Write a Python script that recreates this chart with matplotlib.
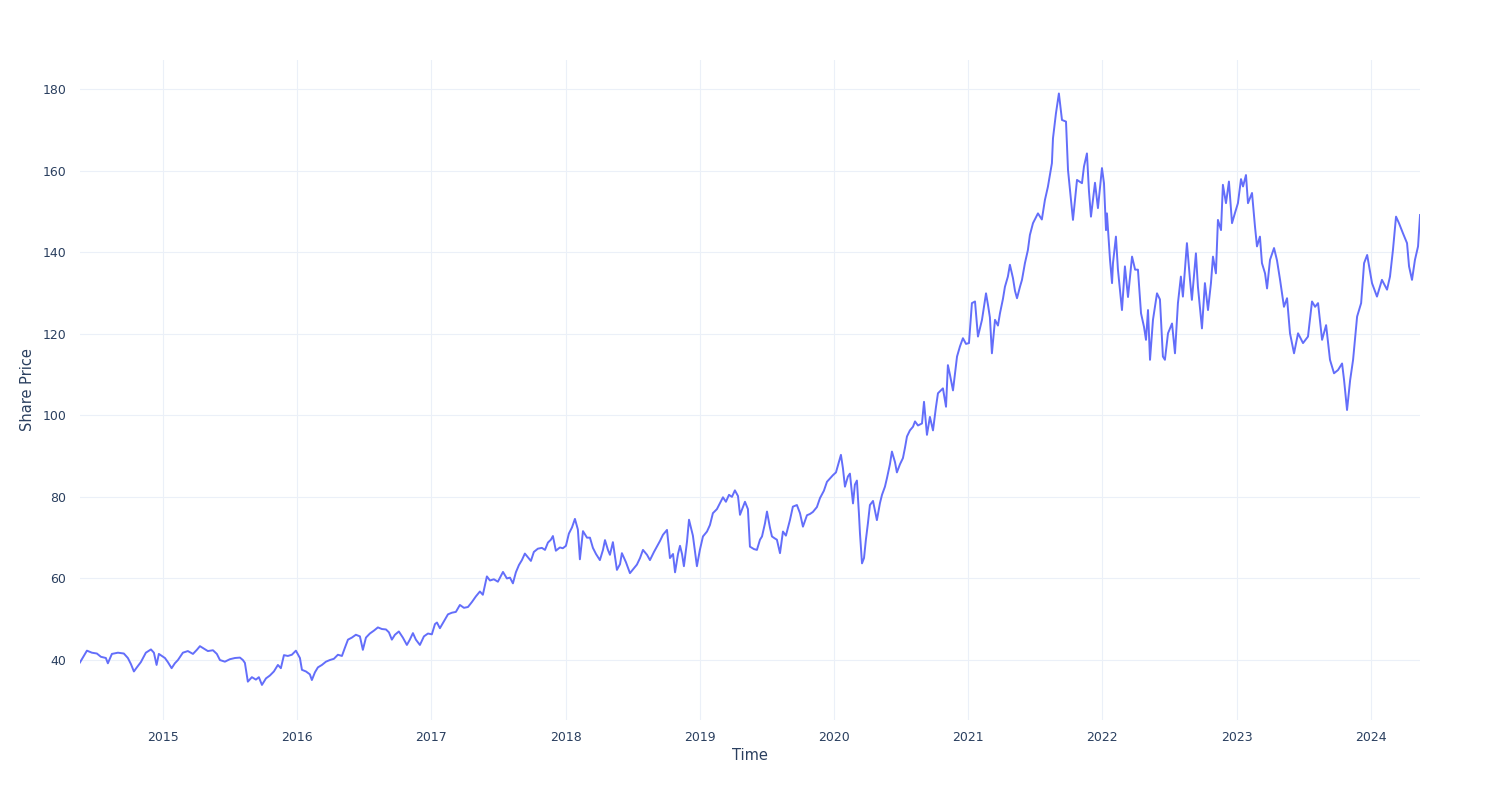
#!/usr/bin/env python3
import matplotlib
matplotlib.use("Agg")
import matplotlib.pyplot as plt

# Time as decimal year, price
t = [
    2014.382, 2014.411, 2014.434, 2014.471, 2014.508, 2014.538, 2014.575, 2014.590, 2014.620, 2014.665,
    2014.709, 2014.739, 2014.762, 2014.784, 2014.806, 2014.836, 2014.873, 2014.911, 2014.933, 2014.953,
    2014.970, 2014.993,
    2015.015, 2015.037, 2015.065, 2015.089, 2015.112, 2015.149, 2015.186, 2015.224, 2015.253, 2015.276,
    2015.306, 2015.335, 2015.373, 2015.402, 2015.425, 2015.462, 2015.499, 2015.537, 2015.574, 2015.596,
    2015.611, 2015.633, 2015.663, 2015.693, 2015.715, 2015.738, 2015.768, 2015.797, 2015.827, 2015.857,
    2015.879, 2015.902, 2015.931, 2015.961, 2015.991,
    2016.021, 2016.036, 2016.066, 2016.095, 2016.110, 2016.133, 2016.155, 2016.185, 2016.215, 2016.244,
    2016.274, 2016.304, 2016.334, 2016.356, 2016.379, 2016.408, 2016.438, 2016.468, 2016.490, 2016.513,
    2016.542, 2016.572, 2016.602, 2016.632, 2016.662, 2016.684, 2016.706, 2016.729, 2016.758, 2016.788,
    2016.818, 2016.840, 2016.863, 2016.885, 2016.915, 2016.945, 2016.975,
    2017.004, 2017.027, 2017.042, 2017.064, 2017.094, 2017.124, 2017.153, 2017.183, 2017.213, 2017.243,
    2017.273, 2017.302, 2017.332, 2017.362, 2017.384, 2017.414, 2017.437, 2017.466, 2017.496, 2017.534,
    2017.563, 2017.586, 2017.608, 2017.630, 2017.653, 2017.675, 2017.697, 2017.720, 2017.742, 2017.764,
    2017.794, 2017.824, 2017.847, 2017.869, 2017.891, 2017.906, 2017.928, 2017.958, 2017.980,
    2018.003, 2018.025, 2018.048, 2018.070, 2018.092, 2018.107, 2018.130, 2018.160, 2018.182, 2018.204,
    2018.227, 2018.256, 2018.279, 2018.294, 2018.316, 2018.331, 2018.353, 2018.383, 2018.406, 2018.420,
    2018.450, 2018.480, 2018.510, 2018.532, 2018.555, 2018.577, 2018.607, 2018.629, 2018.659, 2018.681,
    2018.704, 2018.726, 2018.756, 2018.778, 2018.801, 2018.816, 2018.838, 2018.853, 2018.868, 2018.882,
    2018.905, 2018.920, 2018.949, 2018.979,
    2019.001, 2019.024, 2019.054, 2019.076, 2019.098, 2019.128, 2019.151, 2019.173, 2019.195, 2019.218,
    2019.240, 2019.262, 2019.285, 2019.300, 2019.322, 2019.337, 2019.359, 2019.374, 2019.404, 2019.426,
    2019.449, 2019.464, 2019.486, 2019.501, 2019.523, 2019.538, 2019.560, 2019.575, 2019.598, 2019.620,
    2019.642, 2019.672, 2019.694, 2019.724, 2019.747, 2019.769, 2019.799, 2019.821, 2019.843, 2019.873,
    2019.896, 2019.925, 2019.948, 2019.970, 2019.992,
    2020.015, 2020.037, 2020.052, 2020.067, 2020.082, 2020.104, 2020.119, 2020.142, 2020.156, 2020.171,
    2020.186, 2020.194, 2020.209, 2020.224, 2020.238, 2020.253, 2020.268, 2020.291, 2020.306, 2020.320,
    2020.343, 2020.358, 2020.380, 2020.395, 2020.417, 2020.432, 2020.455, 2020.469, 2020.492, 2020.514,
    2020.529, 2020.544, 2020.566, 2020.589, 2020.604, 2020.626, 2020.656, 2020.671, 2020.693, 2020.715,
    2020.738, 2020.760, 2020.775, 2020.812, 2020.835, 2020.849, 2020.864, 2020.887, 2020.917, 2020.939,
    2020.961, 2020.984,
    2021.006, 2021.028, 2021.051, 2021.073, 2021.103, 2021.133, 2021.148, 2021.162, 2021.177, 2021.200,
    2021.222, 2021.237, 2021.259, 2021.274, 2021.296, 2021.311, 2021.334, 2021.349, 2021.364, 2021.386,
    2021.401, 2021.423, 2021.445, 2021.460, 2021.483, 2021.520, 2021.549, 2021.572, 2021.594, 2021.624,
    2021.632, 2021.654, 2021.676, 2021.699, 2021.729, 2021.744, 2021.766, 2021.781, 2021.811, 2021.848,
    2021.863, 2021.885, 2021.900, 2021.915, 2021.945, 2021.967, 2021.997,
    2022.012, 2022.027, 2022.034, 2022.057, 2022.072, 2022.079, 2022.101, 2022.116, 2022.146, 2022.168,
    2022.191, 2022.221, 2022.244, 2022.265, 2022.288, 2022.310, 2022.325, 2022.340, 2022.355, 2022.377,
    2022.407, 2022.429, 2022.451, 2022.466, 2022.489, 2022.519, 2022.541, 2022.563, 2022.585, 2022.600,
    2022.630, 2022.653, 2022.667, 2022.697, 2022.712, 2022.742, 2022.764, 2022.787, 2022.809, 2022.824,
    2022.846, 2022.861, 2022.884, 2022.898, 2022.921, 2022.943, 2022.966, 2022.988,
    2023.010, 2023.033, 2023.048, 2023.070, 2023.085, 2023.115, 2023.137, 2023.152, 2023.174, 2023.189,
    2023.212, 2023.227, 2023.249, 2023.279, 2023.301, 2023.324, 2023.353, 2023.376, 2023.398, 2023.428,
    2023.458, 2023.495, 2023.532, 2023.562, 2023.585, 2023.607, 2023.637, 2023.667, 2023.696, 2023.726,
    2023.756, 2023.786, 2023.801, 2023.823, 2023.846, 2023.868, 2023.898, 2023.928, 2023.950, 2023.973,
    2024.009, 2024.046, 2024.083, 2024.121, 2024.143, 2024.165, 2024.188, 2024.210, 2024.240, 2024.270,
    2024.285, 2024.307, 2024.329, 2024.352, 2024.367,
]
price = [
    39.4, 41.0, 42.3, 41.8, 41.6, 40.8, 40.5, 39.2, 41.5, 41.8,
    41.6, 40.5, 39.0, 37.2, 38.2, 39.5, 41.8, 42.6, 41.8, 38.8,
    41.5, 41.0,
    40.5, 39.5, 38.0, 39.2, 40.0, 41.8, 42.2, 41.5, 42.5, 43.4,
    42.8, 42.2, 42.4, 41.5, 40.0, 39.6, 40.2, 40.5, 40.6, 40.0,
    39.3, 34.7, 35.8, 35.2, 35.8, 33.9, 35.5, 36.2, 37.2, 38.8,
    38.0, 41.2, 41.0, 41.3, 42.3,
    40.5, 37.6, 37.2, 36.5, 35.1, 37.0, 38.2, 38.8, 39.6, 40.0,
    40.3, 41.3, 41.0, 43.0, 45.0, 45.5, 46.2, 45.8, 42.5, 45.5,
    46.5, 47.2, 48.0, 47.6, 47.5, 46.8, 45.0, 46.2, 47.0, 45.5,
    43.7, 45.0, 46.6, 45.0, 43.7, 45.8, 46.5,
    46.3, 48.8, 49.2, 47.8, 49.5, 51.2, 51.6, 51.8, 53.5, 52.8,
    53.0, 54.2, 55.6, 56.8, 56.0, 60.5, 59.5, 59.8, 59.2, 61.6,
    60.0, 60.2, 58.8, 61.5, 63.3, 64.5, 66.1, 65.2, 64.3, 66.5,
    67.3, 67.5, 67.0, 68.8, 69.5, 70.4, 66.8, 67.6, 67.4,
    68.0, 71.0, 72.5, 74.6, 72.0, 64.7, 71.6, 70.0, 70.0, 67.5,
    66.0, 64.5, 67.0, 69.4, 67.0, 65.8, 68.9, 62.1, 63.5, 66.2,
    64.0, 61.3, 62.5, 63.4, 65.0, 67.0, 65.8, 64.5, 66.5, 67.8,
    69.2, 70.7, 71.9, 65.0, 66.0, 61.5, 66.0, 68.0, 66.0, 63.0,
    69.0, 74.4, 70.5, 63.0,
    67.0, 70.3, 71.5, 73.1, 76.0, 77.0, 78.5, 79.9, 78.8, 80.5,
    80.0, 81.6, 80.2, 75.6, 77.5, 78.8, 77.0, 67.8, 67.2, 67.0,
    69.5, 70.3, 73.5, 76.4, 72.5, 70.3, 69.8, 69.5, 66.2, 71.5,
    70.5, 74.3, 77.6, 78.0, 76.0, 72.7, 75.5, 75.8, 76.3, 77.5,
    79.7, 81.5, 83.7, 84.5, 85.3,
    86.0, 88.5, 90.3, 87.0, 82.5, 85.0, 85.7, 78.4, 83.0, 84.0,
    76.0, 71.0, 63.7, 65.0, 69.5, 73.5, 78.0, 79.0, 76.5, 74.3,
    78.5, 80.5, 82.5, 84.6, 88.0, 91.1, 88.5, 86.0, 88.0, 89.5,
    92.0, 94.8, 96.3, 97.2, 98.5, 97.5, 98.0, 103.3, 95.2, 99.6,
    96.3, 102.0, 105.4, 106.6, 102.1, 112.3, 110.0, 106.1, 114.4, 116.9,
    118.9, 117.5,
    117.7, 127.5, 127.9, 119.3, 123.4, 129.9, 127.0, 124.0, 115.2, 123.4,
    122.0, 125.0, 128.5, 131.5, 134.0, 136.9, 133.6, 130.5, 128.7, 131.5,
    133.2, 137.3, 140.5, 144.2, 147.1, 149.5, 148.0, 152.8, 156.0, 161.8,
    167.9, 174.0, 178.9, 172.4, 172.0, 160.1, 152.8, 147.9, 157.7, 156.9,
    161.0, 164.2, 155.0, 148.7, 157.0, 150.8, 160.6,
    156.9, 145.4, 149.5, 138.1, 132.4, 137.3, 143.8, 135.7, 125.8, 136.5,
    129.0, 138.9, 135.7, 135.7, 125.0, 121.7, 118.5, 125.8, 113.6, 123.4,
    129.9, 128.4, 114.4, 113.6, 120.1, 122.5, 115.2, 127.5, 134.0, 129.1,
    142.2, 133.2, 128.3, 139.7, 131.5, 121.3, 132.4, 125.8, 132.4, 138.9,
    134.8, 147.9, 145.4, 156.5, 152.0, 157.3, 147.1, 149.6,
    152.0, 157.9, 156.1, 158.9, 152.0, 154.5, 146.3, 141.4, 143.8, 137.3,
    134.8, 131.1, 138.1, 141.0, 138.0, 133.2, 126.6, 128.7, 120.1, 115.2,
    120.1, 117.7, 119.3, 127.9, 126.6, 127.5, 118.5, 122.1, 113.6, 110.3,
    111.1, 112.7, 108.6, 101.3, 108.6, 113.6, 124.2, 127.5, 137.3, 139.3,
    132.4, 129.1, 133.2, 130.8, 134.0, 140.5, 148.7, 147.1, 144.6, 142.2,
    136.5, 133.2, 138.1, 141.4, 149.1,
]

year_ticks = list(range(2015, 2025))
price_ticks = [40, 60, 80, 100, 120, 140, 160, 180]

LINE = "#636EFA"
GRID = "#EBF0F8"
TEXT = "#2a3f5f"

fig = plt.figure(figsize=(15, 8), dpi=100)
ax = fig.add_axes([0.0533, 0.1, 0.8934, 0.825])

ax.plot(t, price, color=LINE, linewidth=1.4)

ax.set_xlim(2014.382, 2024.367)
ax.set_ylim(25.3, 187.1)
ax.set_xticks(year_ticks)
ax.set_xticklabels([str(y) for y in year_ticks])
ax.set_yticks(price_ticks)

for s in ax.spines.values():
    s.set_visible(False)
ax.grid(True, color=GRID, linewidth=0.8)
ax.set_axisbelow(True)
ax.tick_params(length=0, labelsize=9, labelcolor=TEXT, pad=8)
ax.tick_params(axis="y", pad=10)

ax.set_xlabel("Time", fontsize=10.5, color=TEXT, labelpad=3)
ax.set_ylabel("Share Price", fontsize=10.5, color=TEXT, labelpad=5)

fig.savefig("out.png", dpi=100, facecolor="white")
